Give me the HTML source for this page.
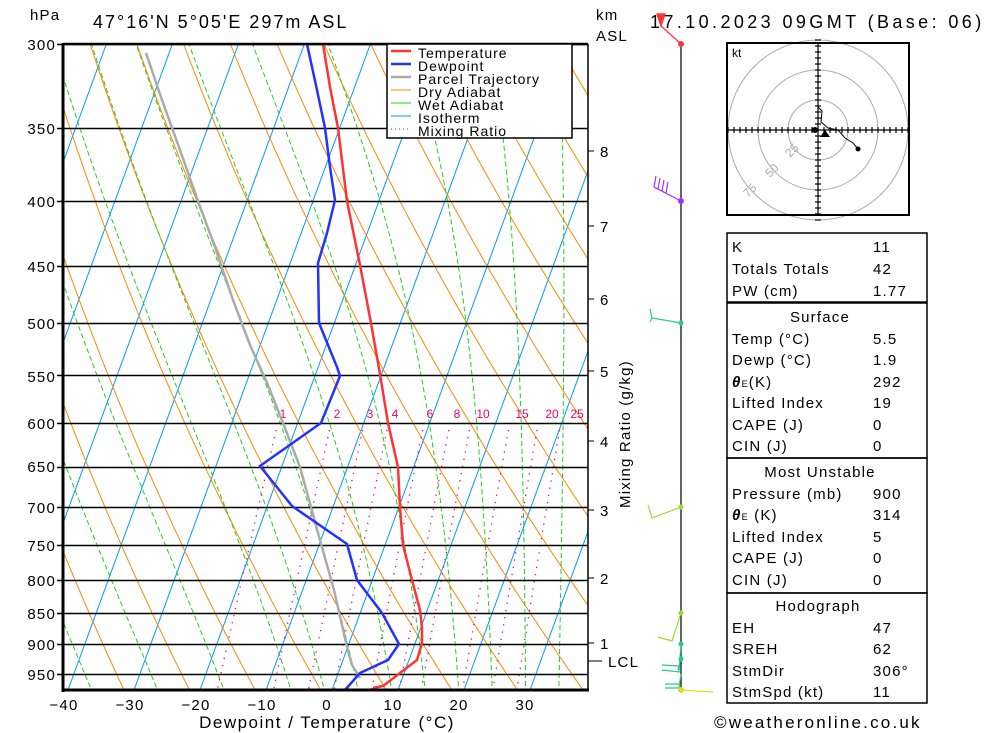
<!DOCTYPE html>
<html><head><meta charset="utf-8">
<style>
html,body{margin:0;padding:0;background:#fff;}
svg{display:block;font-family:"Liberation Sans",sans-serif;}
.t{font-size:15px;letter-spacing:1.2px;fill:#000;}
</style></head>
<body>
<svg id="s" width="1000" height="733" viewBox="0 0 1000 733" xmlns="http://www.w3.org/2000/svg">
<defs><clipPath id="cp"><rect x="63" y="44" width="525" height="646"/></clipPath></defs>
<g id="bg" clip-path="url(#cp)"></g>
<g id="fg"></g>
<text x="30" y="20" class="t" font-size="15">hPa</text>
<text x="93" y="28" class="t" style="font-size:18px;letter-spacing:2px">47°16'N  5°05'E  297m  ASL</text>
<text x="650" y="28" class="t" style="font-size:18px;letter-spacing:3.4px">17.10.2023  09GMT  (Base: 06)</text>
<text x="596" y="20" class="t">km</text>
<text x="596" y="41" class="t">ASL</text>
<g class="t" text-anchor="end" style="font-size:15px">
<text x="56" y="50">300</text><text x="56" y="134">350</text><text x="56" y="207">400</text><text x="56" y="272">450</text>
<text x="56" y="329">500</text><text x="56" y="382">550</text><text x="56" y="429">600</text><text x="56" y="472">650</text>
<text x="56" y="513">700</text><text x="56" y="551">750</text><text x="56" y="586">800</text><text x="56" y="619">850</text>
<text x="56" y="650">900</text><text x="56" y="680">950</text>
</g>
<g class="t" text-anchor="middle" style="font-size:15px">
<text x="64" y="710">−40</text><text x="130" y="710">−30</text><text x="196" y="710">−20</text><text x="262" y="710">−10</text>
<text x="327" y="710">0</text><text x="393" y="710">10</text><text x="459" y="710">20</text><text x="525" y="710">30</text>
</g>
<text x="327" y="728" text-anchor="middle" class="t" style="font-size:17px;letter-spacing:1.5px">Dewpoint / Temperature (°C)</text>
<text transform="translate(630,508) rotate(-90)" class="t" style="font-size:15px">Mixing Ratio (g/kg)</text>
<g class="t" style="font-size:15px">
<text x="600" y="157">8</text><text x="600" y="232">7</text><text x="600" y="305">6</text><text x="600" y="377">5</text>
<text x="600" y="447">4</text><text x="600" y="516">3</text><text x="600" y="584">2</text><text x="600" y="649">1</text>
<text x="608" y="667">LCL</text>
</g>
<rect x="387" y="44" width="185" height="94" fill="#fff" stroke="#000" stroke-width="1.5"/>
<g style="font-size:14px;letter-spacing:1px">
<line x1="391" y1="51" x2="411" y2="51" stroke="#f33" stroke-width="2.5"/><text x="418" y="58">Temperature</text>
<line x1="391" y1="64" x2="411" y2="64" stroke="#2233ff" stroke-width="2.5"/><text x="418" y="71">Dewpoint</text>
<line x1="391" y1="77" x2="411" y2="77" stroke="#aaa" stroke-width="2.5"/><text x="418" y="84">Parcel Trajectory</text>
<line x1="391" y1="90" x2="411" y2="90" stroke="#f80" stroke-width="1"/><text x="418" y="97">Dry Adiabat</text>
<line x1="391" y1="103" x2="411" y2="103" stroke="#2c2" stroke-width="1"/><text x="418" y="110">Wet Adiabat</text>
<line x1="391" y1="116" x2="411" y2="116" stroke="#09f" stroke-width="1"/><text x="418" y="123">Isotherm</text>
<line x1="391" y1="129" x2="411" y2="129" stroke="#e07" stroke-width="1" stroke-dasharray="1,3"/><text x="418" y="136">Mixing Ratio</text>
</g>
<rect x="727" y="43" width="182" height="172" fill="#fff" stroke="#000" stroke-width="2"/>
<g fill="none" stroke="#aaa" stroke-width="1">
<circle cx="818" cy="130" r="30"/><circle cx="818" cy="130" r="60"/><circle cx="818" cy="130" r="90"/>
</g>
<rect x="727" y="43" width="182" height="172" fill="none" stroke="#000" stroke-width="2"/>
<g id="hodo" stroke="#000" stroke-width="1.2"></g>
<text x="732" y="57" style="font-size:12px">kt</text>
<g fill="#aaa" style="font-size:12px">
<text transform="translate(790,158) rotate(-45)">25</text>
<text transform="translate(770,178) rotate(-45)">50</text>
<text transform="translate(748,198) rotate(-45)">75</text>
</g>
<path d="M818,107 L822,111 L821,122 L828,128 L838,130 L845,138 L853,143 L858,149" fill="none" stroke="#000"/>
<circle cx="858" cy="149" r="2.5"/>
<circle cx="815" cy="130" r="3"/>
<path d="M820,137 L825,130 L830,137Z" fill="#000"/>
<g fill="none" stroke="#000" stroke-width="1.5">
<rect x="727" y="233" width="200" height="69"/>
<rect x="727" y="303" width="200" height="155"/>
<rect x="727" y="458" width="200" height="135"/>
<rect x="727" y="593" width="200" height="110"/>
</g>
<g class="t">
<text x="732" y="252">K</text><text x="873" y="252">11</text>
<text x="732" y="274">Totals Totals</text><text x="873" y="274">42</text>
<text x="732" y="296">PW (cm)</text><text x="873" y="296">1.77</text>
<text x="820" y="322" text-anchor="middle">Surface</text>
<text x="732" y="344">Temp (°C)</text><text x="873" y="344">5.5</text>
<text x="732" y="365">Dewp (°C)</text><text x="873" y="365">1.9</text>
<text x="732" y="387"><tspan font-weight="bold" font-style="italic">θ</tspan><tspan font-size="9">E</tspan>(K)</text><text x="873" y="387">292</text>
<text x="732" y="408">Lifted Index</text><text x="873" y="408">19</text>
<text x="732" y="430">CAPE (J)</text><text x="873" y="430">0</text>
<text x="732" y="451">CIN (J)</text><text x="873" y="451">0</text>
<text x="820" y="477" text-anchor="middle">Most Unstable</text>
<text x="732" y="499">Pressure (mb)</text><text x="873" y="499">900</text>
<text x="732" y="520"><tspan font-weight="bold" font-style="italic">θ</tspan><tspan font-size="9">E</tspan> (K)</text><text x="873" y="520">314</text>
<text x="732" y="542">Lifted Index</text><text x="873" y="542">5</text>
<text x="732" y="563">CAPE (J)</text><text x="873" y="563">0</text>
<text x="732" y="585">CIN (J)</text><text x="873" y="585">0</text>
<text x="818" y="611" text-anchor="middle">Hodograph</text>
<text x="732" y="633">EH</text><text x="873" y="633">47</text>
<text x="732" y="654">SREH</text><text x="873" y="654">62</text>
<text x="732" y="676">StmDir</text><text x="873" y="676">306°</text>
<text x="732" y="697">StmSpd (kt)</text><text x="873" y="697">11</text>
</g>
<text x="714" y="728" class="t" style="font-size:17px;letter-spacing:2.2px">©weatheronline.co.uk</text>
<line x1="681" y1="44" x2="681" y2="690" stroke="#000" stroke-width="1.2"/>
<g stroke-width="1.2" fill="none">
<path d="M681,44 L661,26 L657,14 M661,26 L665,14 M657,14 L665,14" stroke="#f33"/>
<path d="M661,26 L657,14 L665,14Z" fill="#f33" stroke="#f33"/>
<path d="M681,201 L654,187 L656,176 M658,189 L660,178 M662,191 L664,180 M666,193 L668,182" stroke="#9933ff"/>
<path d="M681,323 L652,318 L650,309 M652,318 L650,322" stroke="#2c8"/>
<path d="M681,507 L652,518 L648,505" stroke="#9d3"/>
<path d="M681,613 L672,641 L658,637" stroke="#9d3"/>
<path d="M681,644 L679,672 L662,670 M679,666 L662,665 M681,659 L678,670" stroke="#2c8"/>
<path d="M681,674 L679,688 L665,688 M679,684 L665,684" stroke="#2c8"/>
<path d="M681,690 L713,692" stroke="#dd2"/>
</g>
<g>
<circle cx="681" cy="44" r="3" fill="#f33"/><circle cx="681" cy="201" r="3" fill="#9933ff"/>
<circle cx="681" cy="323" r="2.5" fill="#2c8"/><circle cx="681" cy="507" r="2.5" fill="#9d3"/>
<circle cx="681" cy="613" r="2.5" fill="#9d3"/><circle cx="681" cy="644" r="2.5" fill="#2c8"/>
<circle cx="681" cy="659" r="2.5" fill="#2c8"/><circle cx="681" cy="690" r="3" fill="#dd2"/>
</g>
<script>
(function(){
var NS="http://www.w3.org/2000/svg";
var bg=document.getElementById('bg'),fg=document.getElementById('fg'),hodo=document.getElementById('hodo');
function Y(p){return 44+546.5*Math.log(p/300);}
function X(T,y){return 68+6.6*(T+40)+0.366*(690-y);}
function el(par,tag,a){var e=document.createElementNS(NS,tag);for(var k in a)e.setAttribute(k,a[k]);par.appendChild(e);return e;}
function poly(par,pts,st,w,dash){var d="";pts.forEach(function(q,i){d+=(i?"L":"M")+q[0].toFixed(1)+","+q[1].toFixed(1);});
 var a={d:d,fill:"none",stroke:st,"stroke-width":w};if(dash)a["stroke-dasharray"]=dash;return el(par,"path",a);}
var ps=[];for(var p=300;p<=1000;p+=5)ps.push(p);
for(var T=-120;T<=40;T+=10){poly(bg,[[X(T,690),690],[X(T,44),44]],"#09f",1);}
for(var th=-40;th<=200;th+=10){var pts=[];ps.forEach(function(p){var t=(th+273.15)*Math.pow(p/1000,0.286)-273.15;var y=Y(p);pts.push([X(t,y),y]);});poly(bg,pts,"#f80",1);}
function es(t){return 6.112*Math.exp(17.67*t/(t+243.5));}
var mv=[-35,-25,-15,-5,0,5,10,15,20,25,30,35];
mv.forEach(function(t0){var t=t0+273.15,pts=[],p=1000;
 while(p>=300){var y=Y(p);pts.push([X(t-273.15,y),y]);
  var e=es(t-273.15),rs=0.622*e/(p-e),L=2.5e6,Rd=287,cp=1004;
  var dTdp=(Rd*t+L*rs)/(p*(cp+L*L*rs*0.622/(Rd*t*t)));
  t-=dTdp*2;p-=2;}
 poly(bg,pts,"#2c2",1,"5,3");});
var ws=[1,2,3,4,6,8,10,15,20,25];
ws.forEach(function(w){var pts=[];for(var p=600;p<=1000;p+=10){var e=w*p/(622+w),l=Math.log(e/6.112);var t=243.5*l/(17.67-l);var y=Y(p);pts.push([X(t,y),y]);}
 poly(bg,pts,"#e07",1.3,"1.3,6");});
[300,350,400,450,500,550,600,650,700,750,800,850,900,950].forEach(function(p){var y=Math.round(Y(p))+0.5;el(fg,"line",{x1:57,y1:y,x2:588,y2:y,stroke:"#000","stroke-width":1.5});});
var lx=[[1,283],[2,337],[3,370],[4,395],[6,430],[8,457],[10,483],[15,522],[20,552],[25,577]];
lx.forEach(function(a){var t=el(fg,"text",{x:a[1],y:418,"text-anchor":"middle",fill:"#e07","font-size":"12"});t.textContent=a[0];});
poly(fg,[[146,53],[162,100],[180,150],[198,201],[216,250],[233,300],[250,345],[268,385],[283,423],[300,467],[320,540],[334,590],[347,647],[352,665],[360,678]],"#aaa",2.5);
poly(fg,[[323,44],[330,87],[338,128],[347,201],[360,265],[371,323],[381,380],[388,423],[398,467],[400,507],[403,545],[412,580],[420,610],[422,628],[422,643],[417,660],[400,673],[383,686],[373,688]],"#f33",2.5);
poly(fg,[[307,44],[317,90],[325,128],[330,167],[335,200],[327,233],[318,263],[319,323],[337,367],[340,376],[321,423],[260,466],[292,506],[347,544],[357,580],[382,613],[399,644],[388,660],[360,673],[345,690]],"#2233ff",2.5);
el(fg,"line",{x1:63,y1:43,x2:63,y2:692,stroke:"#000","stroke-width":3});
el(fg,"line",{x1:62,y1:690,x2:589,y2:690,stroke:"#000","stroke-width":3});
el(fg,"line",{x1:63,y1:44,x2:588,y2:44,stroke:"#000","stroke-width":2.5});
el(fg,"line",{x1:588,y1:44,x2:588,y2:690,stroke:"#000","stroke-width":1.5});
[151,226,299,371,441,510,578,643].forEach(function(y){el(fg,"line",{x1:588,y1:y,x2:594,y2:y,stroke:"#000","stroke-width":1});});
el(fg,"line",{x1:588,y1:661,x2:602,y2:661,stroke:"#000","stroke-width":1});
el(hodo,"line",{x1:727,y1:130,x2:909,y2:130});el(hodo,"line",{x1:818,y1:43,x2:818,y2:215});
for(var i=-15;i<=15;i++){if(!i)continue;var d=i*6;
 el(hodo,"line",{x1:818+d,y1:127,x2:818+d,y2:133});el(hodo,"line",{x1:815,y1:130+d,x2:821,y2:130+d});}
})();
</script>
</svg>
</body></html>
